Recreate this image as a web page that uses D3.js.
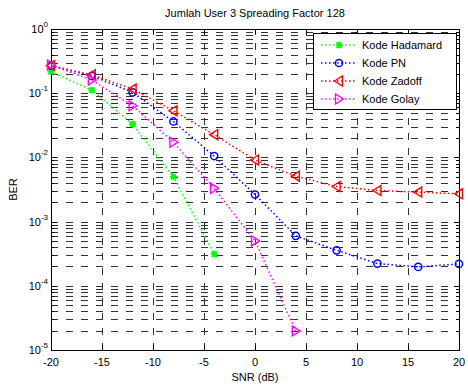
<!DOCTYPE html>
<html>
<head>
<meta charset="utf-8">
<script src="https://cdn.jsdelivr.net/npm/d3@7"></script>
<style>
  html, body { margin: 0; padding: 0; background: #fff; }
  svg { display: block; font-family: "Liberation Sans", Arial, sans-serif; }
</style>
</head>
<body>
<svg id="chart" width="468" height="387"></svg>
<script>
// SNR points (dB)
const snr = [-20, -16, -12, -8, -4, 0, 4, 8, 12, 16, 20];

// BER per spreading code
const berHadamard = [0.215, 0.112, 0.033, 0.0050, 0.00031];
const berPN = [0.266, 0.186, 0.103, 0.0363, 0.0105, 0.00264, 0.00060, 0.000357, 0.000222, 0.000197, 0.000219];
const berZadoff = [0.27, 0.193, 0.116, 0.0533, 0.0226, 0.0091, 0.0051, 0.00352, 0.00305, 0.00288, 0.00271];
const berGolay = [0.275, 0.16, 0.0637, 0.0172, 0.0033, 0.00050, 0.0000197];

const seriesNames = ["Kode Hadamard", "Kode PN", "Kode Zadoff", "Kode Golay"];
const seriesValues = [berHadamard, berPN, berZadoff, berGolay];
const seriesColors = ["#00ff00", "#0000ff", "#ff0000", "#ff00ff"];
const seriesMarkers = ["star", "circle", "triLeft", "triRight"];

const xTicks = [-20, -15, -10, -5, 0, 5, 10, 15, 20];
const yExponents = [0, -1, -2, -3, -4, -5];

const titleText = "Jumlah User 3 Spreading Factor 128";
const xLabel = "SNR (dB)";
const yLabel = "BER";

const svg = d3.select("#chart");
const m = { left: 51, right: 459, top: 29, bottom: 350 };

const x = d3.scaleLinear().domain([-20, 20]).range([m.left, m.right]);
const y = d3.scaleLog().domain([1e-5, 1]).range([m.bottom, m.top]);

// grid: major x, major+minor y (dashed)
const grid = svg.append("g").attr("stroke", "#333").attr("stroke-width", 1)
  .attr("stroke-dasharray", "7,8").attr("fill", "none");
xTicks.slice(1, -1).forEach(t => {
  grid.append("line").attr("x1", Math.round(x(t)) + 0.5).attr("x2", Math.round(x(t)) + 0.5)
    .attr("y1", m.bottom).attr("y2", m.top);
});
const minorVals = [];
for (let e = -5; e < 0; e++) {
  for (let k = 1; k <= 9; k++) minorVals.push(k * Math.pow(10, e));
}
minorVals.filter(v => v > 1e-5).forEach(v => {
  const yy = Math.round(y(v)) + 0.5;
  grid.append("line").attr("x1", m.left).attr("x2", m.right).attr("y1", yy).attr("y2", yy);
});

// axes box
svg.append("rect").attr("x", m.left + 0.5).attr("y", m.top + 0.5)
  .attr("width", m.right - m.left).attr("height", m.bottom - m.top)
  .attr("fill", "none").attr("stroke", "#000").attr("stroke-width", 1);

// ticks (inside, all four sides)
const ticks = svg.append("g").attr("stroke", "#000").attr("stroke-width", 1);
xTicks.forEach(t => {
  const xx = Math.round(x(t)) + 0.5;
  ticks.append("line").attr("x1", xx).attr("x2", xx).attr("y1", m.bottom).attr("y2", m.bottom - 5);
  ticks.append("line").attr("x1", xx).attr("x2", xx).attr("y1", m.top).attr("y2", m.top + 5);
});
minorVals.forEach(v => {
  const yy = Math.round(y(v)) + 0.5;
  const len = (Math.abs(Math.log10(v) - Math.round(Math.log10(v))) < 1e-9) ? 5 : 3;
  ticks.append("line").attr("x1", m.left).attr("x2", m.left + len).attr("y1", yy).attr("y2", yy);
  ticks.append("line").attr("x1", m.right).attr("x2", m.right - len).attr("y1", yy).attr("y2", yy);
});

// tick labels
const fs = 11;
svg.append("g").selectAll("text").data(xTicks).join("text")
  .attr("x", d => x(d)).attr("y", m.bottom + 16)
  .attr("text-anchor", "middle").attr("font-size", fs).text(d => d);

const yl = svg.append("g");
yExponents.forEach(e => {
  const t = yl.append("text").attr("x", 48).attr("y", y(Math.pow(10, e)) + 4)
    .attr("text-anchor", "end").attr("font-size", fs);
  t.append("tspan").text("10");
  t.append("tspan").attr("dy", -6).attr("font-size", 8).text(e);
});

// title and axis labels
svg.append("text").attr("x", (m.left + m.right) / 2).attr("y", 17)
  .attr("text-anchor", "middle").attr("font-size", fs).text(titleText);
svg.append("text").attr("x", (m.left + m.right) / 2).attr("y", 381)
  .attr("text-anchor", "middle").attr("font-size", fs).text(xLabel);
svg.append("text").attr("transform", `translate(17,${(m.top + m.bottom) / 2}) rotate(-90)`)
  .attr("text-anchor", "middle").attr("font-size", fs).text(yLabel);

// marker drawing
function drawMarker(g, kind, cx, cy, color) {
  if (kind === "circle") {
    g.append("circle").attr("cx", cx).attr("cy", cy).attr("r", 3.6)
      .attr("fill", "none").attr("stroke", color).attr("stroke-width", 1.5);
  } else if (kind === "triLeft") {
    const p = [[cx - 4.5, cy], [cx + 3.5, cy - 5], [cx + 3.5, cy + 5]];
    g.append("path").attr("d", "M" + p.join("L") + "Z")
      .attr("fill", "none").attr("stroke", color).attr("stroke-width", 1.4);
  } else if (kind === "triRight") {
    const p = [[cx + 4.5, cy], [cx - 3.5, cy - 5], [cx - 3.5, cy + 5]];
    g.append("path").attr("d", "M" + p.join("L") + "Z")
      .attr("fill", "none").attr("stroke", color).attr("stroke-width", 1.4);
  } else if (kind === "star") {
    const r = 3.5, d = 2.6;
    const path = `M${cx - r},${cy}L${cx + r},${cy}M${cx},${cy - r}L${cx},${cy + r}` +
      `M${cx - d},${cy - d}L${cx + d},${cy + d}M${cx - d},${cy + d}L${cx + d},${cy - d}`;
    g.append("path").attr("d", path).attr("stroke", color).attr("stroke-width", 1.6);
  }
}

const line = d3.line().x(d => x(d[0])).y(d => y(d[1]));
const plot = svg.append("g");
seriesValues.forEach((vals, i) => {
  const pts = vals.map((v, j) => [snr[j], v]);
  const g = plot.append("g");
  g.append("path").attr("d", line(pts)).attr("fill", "none")
    .attr("stroke", seriesColors[i]).attr("stroke-width", 1.5).attr("stroke-dasharray", "1.5,2.5");
  pts.forEach(p => drawMarker(g, seriesMarkers[i], x(p[0]), y(p[1]), seriesColors[i]));
});

// legend
const lg = svg.append("g");
lg.append("rect").attr("x", 313.5).attr("y", 33.5).attr("width", 143).attr("height", 76)
  .attr("fill", "#fff").attr("stroke", "#000").attr("stroke-width", 1);
seriesNames.forEach((name, i) => {
  const ly = 45 + i * 18;
  lg.append("line").attr("x1", 321).attr("x2", 357).attr("y1", ly).attr("y2", ly)
    .attr("stroke", seriesColors[i]).attr("stroke-width", 1.5).attr("stroke-dasharray", "1.5,2.5");
  drawMarker(lg, seriesMarkers[i], 339, ly, seriesColors[i]);
  lg.append("text").attr("x", 362).attr("y", ly + 4).attr("font-size", fs).text(name);
});
</script>
</body>
</html>
